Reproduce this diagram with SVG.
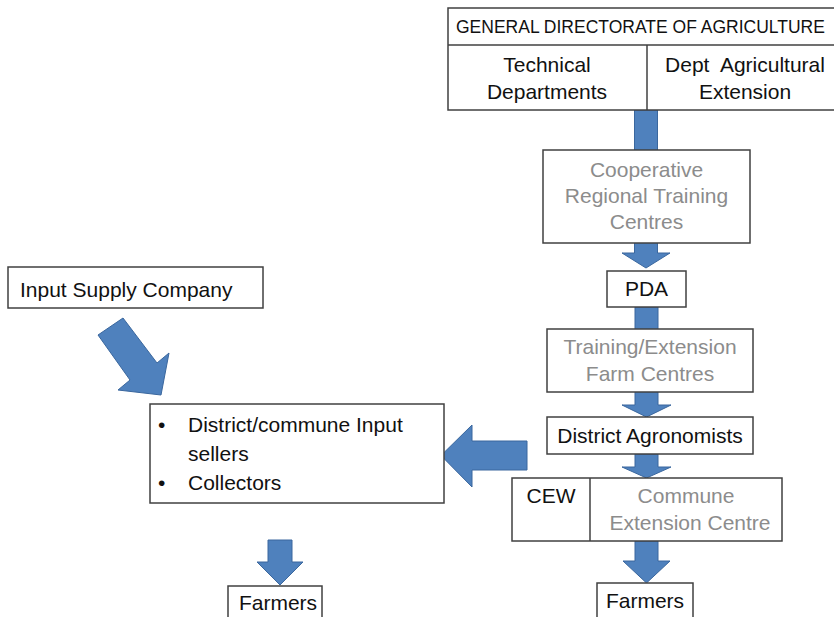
<svg xmlns="http://www.w3.org/2000/svg" width="834" height="617" viewBox="0 0 834 617">
<style>
.box{fill:#ffffff;stroke:#404040;stroke-width:1.5}
.ln{stroke:#404040;stroke-width:1.5;fill:none}
.arr{fill:#4f81bd;stroke:#3a679e;stroke-width:1}
text{font-family:"Liberation Sans",Arial,sans-serif;font-size:21px;fill:#111111}
.c{text-anchor:middle}
.g{fill:#8c8c8c}
</style>
<rect width="834" height="617" fill="#ffffff"/>
<g id="connectors">
<polygon class="arr" points="634.5,110 657.5,110 657.5,253 670,253 646,268 622,253 634.5,253"/>
<polygon class="arr" points="635,307 658,307 658,405 671,405 646.5,417 622,405 635,405"/>
<polygon class="arr" points="635,454 658,454 658,467 671,467 646.5,478 622,467 635,467"/>
<polygon class="arr" points="635,541 658,541 658,561 670,561 646.5,583 623,561 635,561"/>
<polygon class="arr" points="123,318 157,363 169,353 161,395 118,390 130,380 98,335"/>
<polygon class="arr" points="527,441 527,470 472,470 472,487 441,455.5 472,425 472,441"/>
<polygon class="arr" points="268,540 292,540 292,562 303,562 280,585 257,562 268,562"/>
</g>
<g id="general-directorate">
<rect class="box" x="448" y="8" width="400" height="102"/>
<line class="ln" x1="448" y1="45" x2="848" y2="45"/>
<line class="ln" x1="647" y1="45" x2="647" y2="110"/>
<text x="456" y="33" style="font-size:17.5px">GENERAL DIRECTORATE OF AGRICULTURE</text>
<text class="c" x="547" y="72">Technical</text>
<text class="c" x="547" y="99">Departments</text>
<text class="c" x="745" y="72" xml:space="preserve">Dept  Agricultural</text>
<text class="c" x="745" y="99">Extension</text>
</g>
<g id="cooperative">
<rect class="box" x="543" y="150" width="207" height="93"/>
<text class="c g" x="646.5" y="177">Cooperative</text>
<text class="c g" x="646.5" y="203">Regional Training</text>
<text class="c g" x="646.5" y="229">Centres</text>
</g>
<g id="pda">
<rect class="box" x="607" y="271" width="79" height="36"/>
<text class="c" x="646.5" y="296">PDA</text>
</g>
<g id="training">
<rect class="box" x="547" y="329" width="206" height="63"/>
<text class="c g" x="650" y="354">Training/Extension</text>
<text class="c g" x="650" y="381">Farm Centres</text>
</g>
<g id="district-agronomists">
<rect class="box" x="547" y="417" width="206" height="37"/>
<text class="c" x="650" y="443">District Agronomists</text>
</g>
<g id="cew">
<rect class="box" x="512" y="478" width="270" height="63"/>
<line class="ln" x1="590" y1="478" x2="590" y2="541"/>
<text class="c" x="551" y="503">CEW</text>
<text class="c g" x="686" y="503">Commune</text>
<text class="c g" x="690" y="530">Extension Centre</text>
</g>
<g id="farmers-right">
<rect class="box" x="597" y="583" width="96" height="40"/>
<text class="c" x="645" y="608">Farmers</text>
</g>
<g id="input-supply">
<rect class="box" x="8" y="267" width="255" height="41"/>
<text x="20" y="297">Input Supply Company</text>
</g>
<g id="input-sellers">
<rect class="box" x="150" y="404" width="294" height="99"/>
<text x="158" y="432">•</text>
<text x="188" y="432">District/commune Input</text>
<text x="188" y="461">sellers</text>
<text x="158" y="490">•</text>
<text x="188" y="490">Collectors</text>
</g>
<g id="farmers-left">
<rect class="box" x="228" y="586" width="94" height="40"/>
<text class="c" x="278" y="610">Farmers</text>
</g>
</svg>
